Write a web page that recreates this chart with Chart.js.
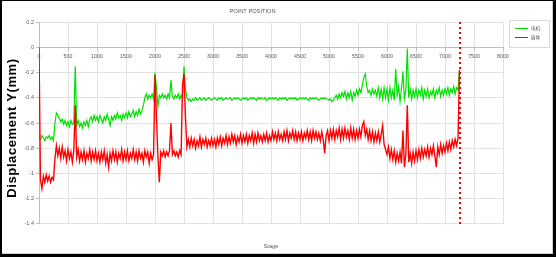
<!DOCTYPE html>
<html>
<head>
<meta charset="utf-8">
<script src="https://cdn.jsdelivr.net/npm/chart.js@4"></script>
<style>
  html, body { margin: 0; padding: 0; background: #000; }
  #frame { position: relative; width: 556px; height: 257px; background: #000; }
  #box { position: absolute; left: 2px; top: 1px; width: 550px; height: 252px; background: #fff; border-right: 1px solid #cfcfcf; border-bottom: 1px solid #cfcfcf; }
  canvas { display: block; }
</style>
</head>
<body>
<div id="frame"><div id="box"><canvas id="chart" width="550" height="252"></canvas></div></div>
<script>
// series names
const seriesNames = ["电机", "盾体"];

// tick values / labels
const xTickValues = [0, 500, 1000, 1500, 2000, 2500, 3000, 3500, 4000, 4500, 5000, 5500, 6000, 6500, 7000, 7500, 8000];
const xTickLabels = ["0", "500", "1000", "1500", "2000", "2500", "3000", "3500", "4000", "4500", "5000", "5500", "6000", "6500", "7000", "7500", "8000"];
const yTickValues = [0.2, 0, -0.2, -0.4, -0.6, -0.8, -1, -1.2, -1.4];
const yTickLabels = ["0.2", "0", "-0.2", "-0.4", "-0.6", "-0.8", "-1", "-1.2", "-1.4"];

// stages are sampled every 25, starting at 0
const stageStep = 25;

// marker line (stage)
const markerStage = 7260;
const markerRange = [0.2, -1.4];

// 电机 displacement, one row per 500 stages
const motorDisp = [
  -0.71,-0.73,-0.70,-0.72,-0.74,-0.71,-0.72,-0.70,-0.73,-0.71,-0.74,-0.60,-0.52,-0.54,-0.56,-0.59,-0.57,-0.61,-0.58,-0.62,
  -0.59,-0.63,-0.58,-0.61,-0.60,-0.15,-0.62,-0.58,-0.63,-0.60,-0.64,-0.59,-0.62,-0.58,-0.63,-0.57,-0.55,-0.59,-0.54,-0.58,
  -0.55,-0.59,-0.54,-0.57,-0.60,-0.55,-0.58,-0.53,-0.57,-0.62,-0.55,-0.58,-0.54,-0.57,-0.52,-0.56,-0.54,-0.58,-0.53,-0.56,
  -0.52,-0.56,-0.51,-0.55,-0.53,-0.50,-0.55,-0.51,-0.54,-0.49,-0.53,-0.50,-0.46,-0.40,-0.37,-0.41,-0.38,-0.40,-0.37,-0.41,
  -0.20,-0.32,-0.47,-0.38,-0.40,-0.37,-0.40,-0.38,-0.41,-0.37,-0.40,-0.26,-0.39,-0.41,-0.38,-0.40,-0.37,-0.41,-0.38,-0.40,
  -0.15,-0.33,-0.40,-0.42,-0.41,-0.43,-0.41,-0.42,-0.40,-0.42,-0.41,-0.40,-0.42,-0.41,-0.40,-0.42,-0.41,-0.40,-0.41,-0.42,
  -0.41,-0.40,-0.41,-0.42,-0.40,-0.41,-0.40,-0.42,-0.41,-0.40,-0.41,-0.41,-0.40,-0.42,-0.41,-0.40,-0.41,-0.40,-0.41,-0.42,
  -0.41,-0.40,-0.41,-0.40,-0.42,-0.41,-0.40,-0.41,-0.40,-0.41,-0.42,-0.40,-0.41,-0.40,-0.41,-0.41,-0.40,-0.42,-0.41,-0.40,
  -0.41,-0.40,-0.41,-0.40,-0.41,-0.42,-0.40,-0.41,-0.40,-0.41,-0.40,-0.42,-0.41,-0.40,-0.41,-0.40,-0.41,-0.40,-0.42,-0.41,
  -0.40,-0.41,-0.40,-0.41,-0.40,-0.41,-0.42,-0.40,-0.41,-0.40,-0.41,-0.40,-0.41,-0.42,-0.41,-0.40,-0.41,-0.40,-0.41,-0.41,
  -0.42,-0.41,-0.43,-0.42,-0.40,-0.38,-0.41,-0.37,-0.40,-0.36,-0.39,-0.35,-0.41,-0.36,-0.40,-0.35,-0.42,-0.36,-0.39,-0.34,
  -0.38,-0.33,-0.36,-0.30,-0.24,-0.21,-0.31,-0.36,-0.34,-0.38,-0.33,-0.37,-0.34,-0.39,-0.32,-0.40,-0.33,-0.41,-0.32,-0.40,
  -0.33,-0.42,-0.32,-0.40,-0.34,-0.42,-0.17,-0.38,-0.31,-0.43,-0.33,-0.19,-0.41,-0.34,-0.01,-0.40,-0.33,-0.41,-0.34,-0.39,
  -0.33,-0.40,-0.34,-0.38,-0.32,-0.41,-0.34,-0.39,-0.33,-0.40,-0.35,-0.38,-0.33,-0.40,-0.34,-0.37,-0.32,-0.39,-0.34,-0.38,
  -0.33,-0.37,-0.32,-0.38,-0.33,-0.36,-0.31,-0.37,-0.32,-0.34,-0.18
];

// 盾体 displacement, one row per 500 stages
const shieldDisp = [
   0.00,-1.05,-1.12,-1.02,-1.07,-1.01,-1.06,-1.02,-1.07,-1.03,-1.05,-0.88,-0.78,-0.86,-0.80,-0.88,-0.79,-0.87,-0.82,-0.90,
  -0.81,-0.88,-0.83,-0.91,-0.82,-0.46,-0.87,-0.81,-0.90,-0.83,-0.89,-0.82,-0.91,-0.84,-0.88,-0.81,-0.90,-0.83,-0.89,-0.82,
  -0.90,-0.84,-0.91,-0.83,-0.89,-0.82,-0.92,-0.85,-0.95,-0.84,-0.90,-0.82,-0.89,-0.83,-0.91,-0.84,-0.88,-0.81,-0.90,-0.83,
  -0.89,-0.82,-0.90,-0.84,-0.88,-0.81,-0.89,-0.83,-0.90,-0.82,-0.88,-0.84,-0.91,-0.82,-0.87,-0.83,-0.92,-0.84,-0.89,-0.85,
  -0.22,-0.55,-0.86,-1.07,-0.83,-0.86,-0.82,-0.87,-0.83,-0.86,-0.82,-0.60,-0.85,-0.82,-0.86,-0.83,-0.87,-0.82,-0.85,-0.30,
  -0.21,-0.55,-0.79,-0.73,-0.79,-0.72,-0.78,-0.73,-0.80,-0.74,-0.78,-0.71,-0.79,-0.73,-0.77,-0.72,-0.79,-0.74,-0.78,-0.72,
  -0.78,-0.73,-0.79,-0.72,-0.77,-0.71,-0.78,-0.72,-0.76,-0.70,-0.77,-0.71,-0.76,-0.69,-0.75,-0.70,-0.77,-0.71,-0.75,-0.69,
  -0.76,-0.70,-0.75,-0.69,-0.76,-0.70,-0.74,-0.68,-0.76,-0.69,-0.75,-0.68,-0.74,-0.70,-0.75,-0.69,-0.74,-0.68,-0.75,-0.70,
  -0.74,-0.67,-0.73,-0.68,-0.74,-0.67,-0.73,-0.69,-0.74,-0.67,-0.73,-0.66,-0.74,-0.68,-0.72,-0.66,-0.73,-0.67,-0.74,-0.68,
  -0.73,-0.67,-0.74,-0.68,-0.72,-0.66,-0.73,-0.67,-0.74,-0.66,-0.72,-0.67,-0.73,-0.68,-0.74,-0.67,-0.73,-0.84,-0.70,-0.66,
  -0.74,-0.66,-0.72,-0.65,-0.73,-0.66,-0.71,-0.64,-0.73,-0.65,-0.72,-0.64,-0.71,-0.66,-0.73,-0.64,-0.72,-0.65,-0.73,-0.66,
  -0.72,-0.65,-0.71,-0.62,-0.59,-0.70,-0.65,-0.73,-0.66,-0.74,-0.67,-0.75,-0.68,-0.74,-0.67,-0.75,-0.69,-0.62,-0.77,-0.81,
  -0.85,-0.79,-0.88,-0.81,-0.89,-0.82,-0.91,-0.84,-0.90,-0.83,-0.92,-0.66,-0.95,-0.85,-0.46,-0.91,-0.84,-0.92,-0.83,-0.90,
  -0.82,-0.89,-0.81,-0.88,-0.80,-0.87,-0.81,-0.86,-0.79,-0.87,-0.80,-0.85,-0.78,-0.86,-0.95,-0.79,-0.85,-0.77,-0.84,-0.78,
  -0.83,-0.76,-0.82,-0.75,-0.81,-0.74,-0.79,-0.73,-0.78,-0.72,-0.18
];

const motorColor = "#00e000";
const shieldColor = "#ff0000";
const textColor = "#595959";
const gridColor = "#e2e2e2";

const toXY = vals => vals.map((v, i) => ({ x: i * stageStep, y: v }));

// y title + legend box, drawn after the chart
const extras = {
  id: "extras",
  afterDraw(chart) {
    const ctx = chart.ctx;
    ctx.save();
    ctx.translate(10.5, 127);
    ctx.rotate(-Math.PI / 2);
    ctx.fillStyle = "#000";
    ctx.font = "bold 13px 'Liberation Sans Narrow', 'Liberation Sans', Arial, sans-serif";
    if ("letterSpacing" in ctx) ctx.letterSpacing = "0.6px";
    ctx.textAlign = "center";
    ctx.textBaseline = "middle";
    ctx.fillText("Displacement Y(mm)", 0, 0);
    ctx.restore();

    // legend
    ctx.save();
    ctx.strokeStyle = "#d9d9d9";
    ctx.lineWidth = 1;
    ctx.strokeRect(507.5, 19.5, 40, 27);
    const cols = [motorColor, shieldColor];
    const ys = [27.5, 36.5];
    ctx.font = "4.6px 'Noto Sans CJK SC', sans-serif";
    ctx.textBaseline = "middle";
    ctx.fillStyle = textColor;
    seriesNames.forEach((n, i) => {
      ctx.strokeStyle = cols[i];
      ctx.beginPath();
      ctx.moveTo(513, ys[i]);
      ctx.lineTo(526, ys[i]);
      ctx.stroke();
      ctx.fillText(n, 529, ys[i]);
    });
    ctx.restore();
  }
};

new Chart(document.getElementById("chart"), {
  type: "line",
  data: {
    datasets: [
      { label: seriesNames[0], data: toXY(motorDisp), borderColor: motorColor, borderWidth: 1.2, pointRadius: 0, order: 2 },
      { label: seriesNames[1], data: toXY(shieldDisp), borderColor: shieldColor, borderWidth: 1.4, pointRadius: 0, order: 1 },
      { label: "marker", data: markerRange.map(v => ({ x: markerStage, y: v })), borderColor: "#e00000",
        borderWidth: 2, borderDash: [2, 3], pointRadius: 0, order: 0 }
    ]
  },
  options: {
    responsive: false,
    animation: false,
    events: [],
    layout: { padding: { left: 0, right: 49, top: 0, bottom: 0 } },
    elements: { line: { tension: 0 } },
    plugins: {
      legend: { display: false },
      tooltip: { enabled: false },
      title: {
        display: true, text: "POINT POSITION", color: textColor,
        font: { family: "'Liberation Sans', Arial, sans-serif", size: 5.7, weight: "normal", lineHeight: 1.2 },
        padding: { top: 6.6, bottom: 7.6 }
      },
      subtitle: {
        display: true, text: "Stage", position: "bottom", fullSize: false, color: textColor,
        font: { family: "'Liberation Sans', Arial, sans-serif", size: 5.7, lineHeight: 1.2 },
        padding: { top: 18.6, bottom: 3.6 }
      }
    },
    scales: {
      x: {
        type: "linear",
        position: { y: 0 },
        min: 0, max: 8000,
        afterBuildTicks: s => { s.ticks = xTickValues.map(v => ({ value: v })); },
        ticks: { callback: v => xTickLabels[xTickValues.indexOf(v)], color: textColor, padding: 3, maxRotation: 0, autoSkip: false,
                 font: { family: "'Liberation Sans', Arial, sans-serif", size: 5.3 } },
        grid: { color: gridColor, tickLength: 3, tickColor: "#bfbfbf" },
        border: { color: "#bfbfbf" }
      },
      y: {
        min: -1.4, max: 0.2,
        afterBuildTicks: s => { s.ticks = yTickValues.map(v => ({ value: v })); },
        afterFit: s => { s.width = 37; },
        ticks: { callback: v => yTickLabels[yTickValues.indexOf(v)], color: textColor, padding: 2, autoSkip: false,
                 font: { family: "'Liberation Sans', Arial, sans-serif", size: 5.5 } },
        grid: { color: gridColor, tickLength: 3, tickColor: "#bfbfbf" },
        border: { color: "#bfbfbf" }
      }
    }
  },
  plugins: [extras]
});
</script>
</body>
</html>
